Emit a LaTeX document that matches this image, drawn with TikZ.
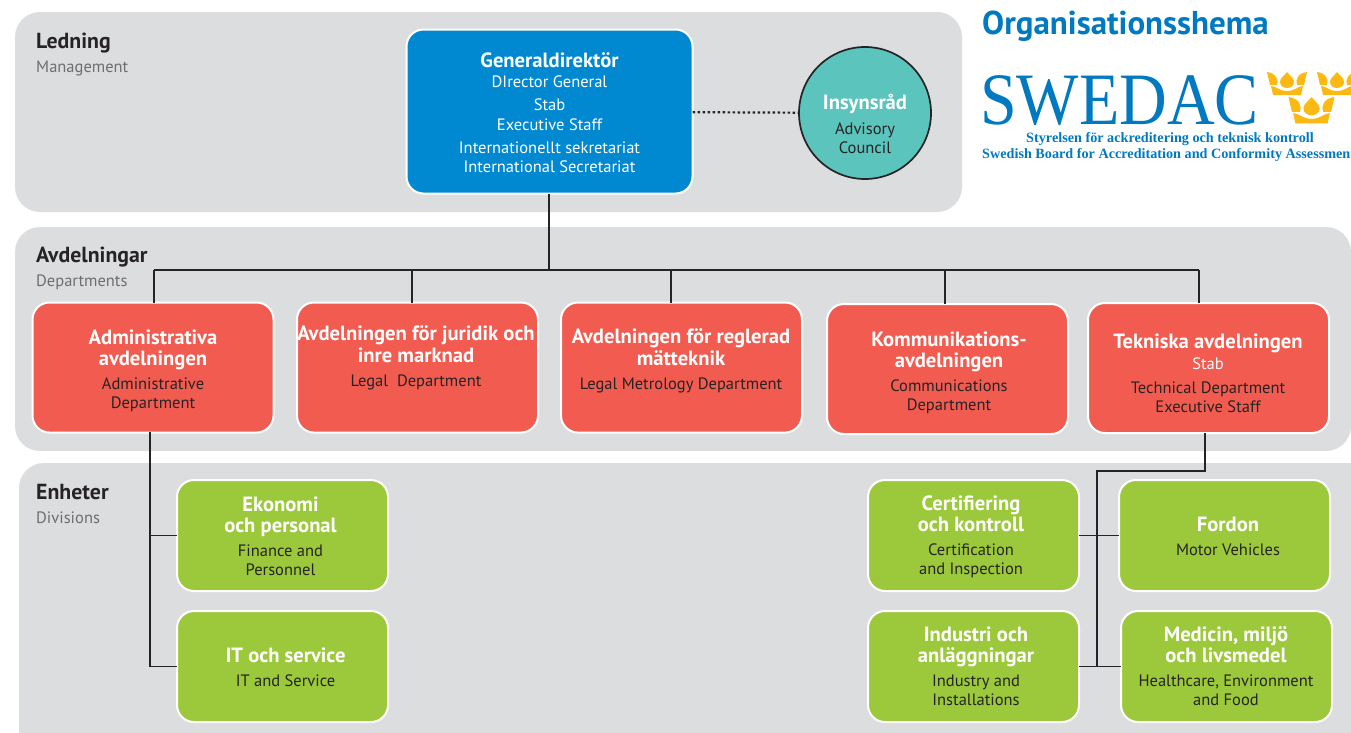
\documentclass[tikz,border=0pt]{standalone}
\usepackage{fontspec}
\setmainfont{PT Sans}
\newfontfamily\logofont{Liberation Serif}
\definecolor{bandgray}{HTML}{DCDDDF}
\definecolor{dirblue}{HTML}{0089D0}
\definecolor{deptred}{HTML}{F25B50}
\definecolor{divgreen}{HTML}{9BC93B}
\definecolor{councilteal}{HTML}{5BC4BC}
\definecolor{swedacblue}{HTML}{0079C1}
\definecolor{crowngold}{HTML}{FDB913}
\definecolor{inkdark}{HTML}{262324}
\definecolor{subgray}{HTML}{6D6E71}
\newcommand{\hdfont}{\fontsize{20.6}{19}\selectfont\bfseries}
\newcommand{\ttl}[1]{{\color{white}\hdfont #1}}
\tikzset{
    band/.style={fill=bandgray, rounded corners=25pt, inner sep=0, outer sep=0, anchor=north west},
    unitbox/.style={draw=white, line width=2pt, rounded corners=17pt, inner sep=0, outer sep=0},
    redbox/.style={unitbox, fill=deptred, minimum width=241pt, minimum height=130pt},
    greenbox/.style={unitbox, fill=divgreen, minimum width=211pt, minimum height=111pt},
    boxtext/.style={align=center, inner sep=0, text=inkdark, font=\fontsize{16.5}{19}\selectfont},
    bandhead/.style={anchor=base west, inner sep=0, font=\fontsize{21.8}{22}\selectfont\bfseries, text=inkdark},
    bandsub/.style={anchor=base west, inner sep=0, font=\fontsize{16.5}{18}\selectfont, text=subgray},
    logotext/.style={inner sep=0, text=swedacblue, font=\logofont\fontsize{14.2}{14}\selectfont\bfseries},
    link/.style={draw=inkdark, line width=1.7pt},
    crown/.pic={
        \fill[crowngold] (-14,23) -- (14,23) -- (16,14) .. controls (11,14) and (8,19) .. (0,19)
            .. controls (-8,19) and (-11,14) .. (-16,14) -- cycle;
        \fill[crowngold] (-20,0) .. controls (-11,1) and (-8,8) .. (-10,13) -- (-17,13) -- cycle;
        \fill[crowngold] (20,0) .. controls (11,1) and (8,8) .. (10,13) -- (17,13) -- cycle;
        \fill[crowngold] (0,0) .. controls (3,4) and (7,6) .. (7,10) .. controls (7,14) and (3,16) .. (0,16)
            .. controls (-3,16) and (-7,14) .. (-7,10) .. controls (-7,6) and (-3,4) .. (0,0) -- cycle;
    }
}
\begin{document}
\begin{tikzpicture}[x=1pt, y=-1pt]
    \useasboundingbox (0,0) rectangle (1351,732);
    \clip (0,0) rectangle (1351,732);
    % Bands behind the boxes.
    \node[band, minimum width=947pt, minimum height=200pt] (ledning) at (15,12) {};
    \node[band, minimum width=1336pt, minimum height=224pt] (avdelningar) at (15,227) {};
    \node[band, minimum width=1370pt, minimum height=310pt] (enheter) at (19,463) {};
    \node[bandhead] (ledningHead) at (36,48) {Ledning};
    \node[bandsub] (ledningSub) at (36,72) {Management};
    \node[bandhead] (avdelningarHead) at (36,262) {Avdelningar};
    \node[bandsub] (avdelningarSub) at (36,286) {Departments};
    \node[bandhead] (enheterHead) at (36,499) {Enheter};
    \node[bandsub] (enheterSub) at (36,523) {Divisions};

    % Title and logo.
    \node[anchor=base west, inner sep=0, text=swedacblue, font=\fontsize{33}{34}\selectfont\bfseries] (title) at (982,34) {Organisationsshema};
    \node[anchor=base west, inner sep=0, text=swedacblue, text depth=0pt, font=\logofont\fontsize{66}{66}\selectfont] (swedac) at (980,124) {\scalebox{1.0}[1.12]{SWEDAC}};
    \node[logotext, anchor=base] (logoSe) at (1170,142) {Styrelsen för ackreditering och teknisk kontroll};
    \node[logotext, anchor=base west] (logoEn) at (982,158) {Swedish Board for Accreditation and Conformity Assessment};
    \pic at (1287,72) {crown};
    \pic at (1337,72) {crown};
    \pic[scale=1.15] at (1311.5,97) {crown};

    % Management.
    \node[unitbox, fill=dirblue, minimum width=286pt, minimum height=164pt] (direktor) at (549.5,111.5) {};
    \node[boxtext, text=white] (direktorText) at (549.5,113) {\ttl{Generaldirektör}\\[1pt]DIrector General\\[4pt]Stab\\[1pt]Executive Staff\\[4pt]Internationellt sekretariat\\International Secretariat};
    \node[circle, draw=inkdark, line width=1.7pt, fill=councilteal, minimum size=132pt, inner sep=0, outer sep=0] (insyn) at (865,113) {};
    \node[boxtext] (insynText) at (865,123.5) {\ttl{Insynsråd}\\[6pt]Advisory\\Council};
    \draw[link, line width=2.2pt, dash pattern=on 2.5pt off 2.5pt] (direktor) -- (insyn);

    % Departments.
    \node[redbox] (admin) at (153,367.5) {};
    \node[redbox] (juridik) at (417.5,367.5) {};
    \node[redbox] (matteknik) at (681.5,367.5) {};
    \node[redbox] (komm) at (947.5,369) {};
    \node[redbox] (teknik) at (1208.5,368) {};
    \node[boxtext] (adminText) at (153,370.5) {\ttl{Administrativa}\\[2pt]\ttl{avdelningen}\\[5pt]Administrative\\Department};
    \node[boxtext] (juridikText) at (416,358) {\ttl{Avdelningen för juridik och}\\[2pt]\ttl{inre marknad}\\[5pt]Legal\ \ Department};
    \node[boxtext] (matteknikText) at (681,361) {\ttl{Avdelningen för reglerad}\\[2pt]\ttl{mätteknik}\\[5pt]Legal Metrology Department};
    \node[boxtext] (kommText) at (949,372.5) {\ttl{Kommunikations-}\\[2pt]\ttl{avdelningen}\\[5pt]Communications\\Department};
    \node[boxtext] (teknikText) at (1208,373.5) {\ttl{Tekniska avdelningen}\\[2pt]\textcolor{white}{Stab}\\[5pt]Technical Department\\Executive Staff};

    % Divisions.
    \node[greenbox] (ekonomi) at (282.5,535.5) {};
    \node[greenbox] (service) at (282.5,666.5) {};
    \node[greenbox] (cert) at (973.5,535.5) {};
    \node[greenbox] (fordon) at (1224.5,535.5) {};
    \node[greenbox] (industri) at (973.5,666.5) {};
    \node[greenbox] (medicin) at (1226.5,666.5) {};
    \node[boxtext] (ekonomiText) at (280.5,536.5) {\ttl{Ekonomi}\\[2pt]\ttl{och personal}\\[5pt]Finance and\\Personnel};
    \node[boxtext] (serviceText) at (285.5,667.5) {\ttl{IT och service}\\[5pt]IT and Service};
    \node[boxtext] (certText) at (971,536.5) {\ttl{Certifiering}\\[2pt]\ttl{och kontroll}\\[5pt]Certification\\and Inspection};
    \node[boxtext] (fordonText) at (1228,536.5) {\ttl{Fordon}\\[5pt]Motor Vehicles};
    \node[boxtext] (industriText) at (976,666.5) {\ttl{Industri och}\\[2pt]\ttl{anläggningar}\\[5pt]Industry and\\Installations};
    \node[boxtext] (medicinText) at (1226,666.5) {\ttl{Medicin, miljö}\\[2pt]\ttl{och livsmedel}\\[5pt]Healthcare, Environment\\and Food};

    % Connectors.
    \coordinate (busTop) at (549,270);
    \coordinate (busLeft) at ([xshift=1pt]admin.north |- busTop);
    \coordinate (busRight) at ([xshift=-9.5pt]teknik.north |- busTop);
    \draw[link] (busTop |- direktor.south) -- (busTop);
    \draw[link] (busLeft) -- (busRight);
    \draw[link] (busLeft) -- (busLeft |- admin.north);
    \draw[link] (busRight) -- (busRight |- teknik.north);
    \draw[link] ([xshift=-5.5pt]juridik.north) -- ([xshift=-5.5pt]juridik.north |- busTop);
    \draw[link] ([xshift=-10.5pt]matteknik.north) -- ([xshift=-10.5pt]matteknik.north |- busTop);
    \draw[link] ([xshift=-2.5pt]komm.north) -- ([xshift=-2.5pt]komm.north |- busTop);
    \coordinate (adminDrop) at (150,432);
    \draw[link] (adminDrop) |- (service.west);
    \draw[link] (adminDrop |- ekonomi.west) -- (ekonomi.west);
    \coordinate (teknikDrop) at (1205,433);
    \coordinate (teknikBus) at (1097,471);
    \draw[link] (teknikDrop) |- (teknikBus) -- (teknikBus |- industri.east);
    \draw[link] (cert.east) -- (fordon.west);
    \draw[link] (industri.east) -- (medicin.west);
\end{tikzpicture}
\end{document}
